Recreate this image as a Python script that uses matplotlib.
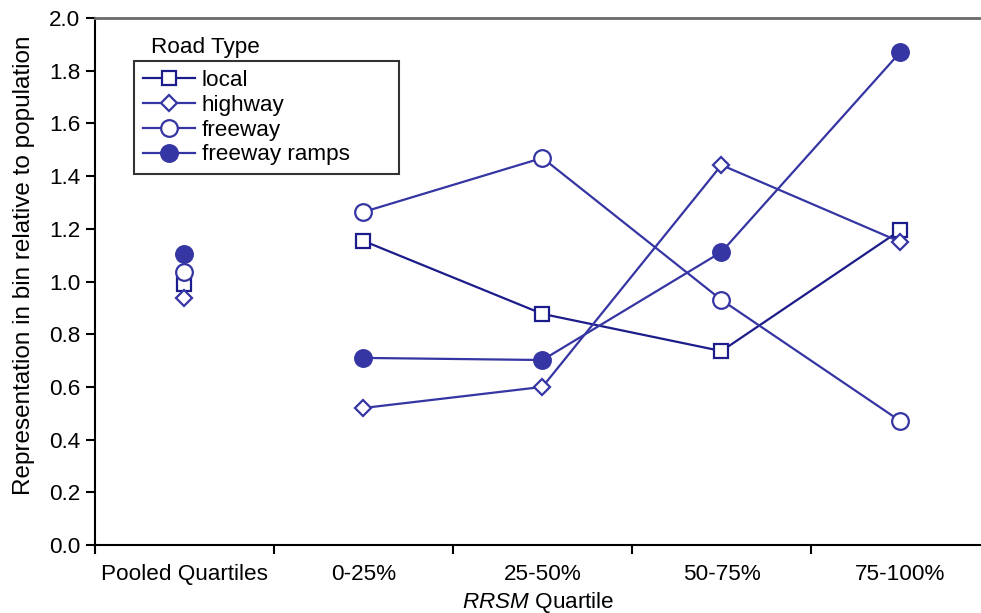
import matplotlib
matplotlib.use('Agg')
import matplotlib.pyplot as plt
import numpy as np

plt.rcParams['font.family'] = ['Liberation Sans', 'DejaVu Sans']
plt.rcParams['mathtext.fontset'] = 'custom'
plt.rcParams['mathtext.it'] = 'Liberation Sans:italic'
plt.rcParams['mathtext.rm'] = 'Liberation Sans'

quartiles = ['Pooled Quartiles', '0-25%', '25-50%', '50-75%', '75-100%']
local = [0.99, 1.154, 0.877, 0.736, 1.195]
highway = [0.937, 0.52, 0.60, 1.442, 1.15]
freeway = [1.036, 1.264, 1.469, 0.93, 0.47]
ramps = [1.104, 0.71, 0.702, 1.112, 1.871]

dark = '#1c1c8a'
blue = '#3535a3'

fig = plt.figure(figsize=(9.81, 6.13), dpi=100)
ax = fig.add_axes([95/981, 68/613, 886/981, 527/613])

x = np.arange(len(quartiles))
fs = 16.2

def series(vals, marker, color, ms, label, filled=False):
    face = color if filled else 'white'
    # pooled point stands alone, the quartiles are joined
    ax.plot(x[:1], vals[:1], marker=marker, ls='none', color=color, ms=ms,
            mew=1.6, mfc=face)
    ax.plot(x[1:], vals[1:], marker=marker, color=color, lw=1.6, ms=ms,
            mew=1.6, mfc=face, label=label)

series(local, 's', dark, 9.5, 'local')
series(highway, 'D', blue, 8.5, 'highway')
series(freeway, 'o', blue, 12, 'freeway')
series(ramps, 'o', blue, 12, 'freeway ramps', filled=True)

ax.set_xlim(-0.5, 4.45)
ax.set_ylim(0, 2.0)
ax.set_yticks(np.arange(0, 2.01, 0.2))
ax.set_yticklabels([f'{v:.1f}' for v in np.arange(0, 2.01, 0.2)], fontsize=fs)
ax.set_xticks(np.arange(-0.5, 4.0, 1.0))
ax.set_xticklabels([])
ax.set_xticks(x, minor=True)
ax.set_xticklabels(quartiles, minor=True, fontsize=fs)
ax.tick_params(axis='x', which='minor', length=0, pad=14)
ax.tick_params(axis='both', which='major', direction='out', length=6.5,
               width=1.5, color='black')
ax.tick_params(axis='y', pad=4)

ax.spines['right'].set_visible(False)
ax.spines['top'].set_color('#6a6a6a')
ax.spines['top'].set_linewidth(2)
ax.spines['left'].set_linewidth(1.5)
ax.spines['bottom'].set_linewidth(1.5)

ax.set_ylabel('Representation in bin relative to population', fontsize=17.5)
ax.yaxis.set_label_coords(-0.068, 0.531)
ax.set_xlabel(r'$\mathit{RRSM}$ Quartile', fontsize=fs, labelpad=3)

leg = ax.legend(loc='upper left', mode='expand',
                bbox_to_anchor=(39/886, 1 - 154/527, 265/886, 111/527),
                fontsize=fs, frameon=True, fancybox=False, handlelength=2.3,
                labelspacing=0.17, borderpad=0.4, handletextpad=0.3,
                borderaxespad=0)
leg.get_frame().set_edgecolor('black')
leg.get_frame().set_linewidth(1.5)
ax.text(56/886, 1 - 29/527, 'Road Type', transform=ax.transAxes,
        fontsize=fs, va='center', ha='left')

fig.savefig('out.png', dpi=100)
